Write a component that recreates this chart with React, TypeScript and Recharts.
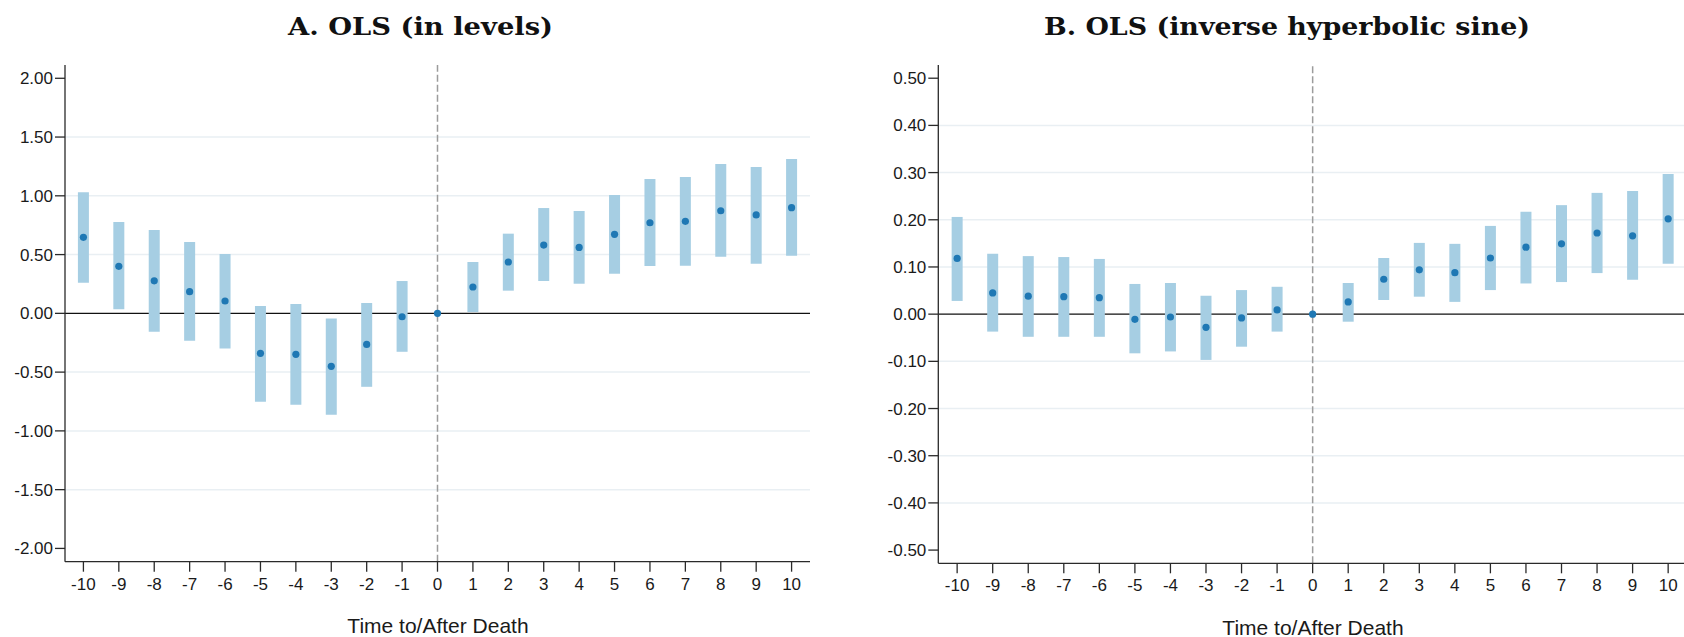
import React from "react";
import { ComposedChart, Scatter, ErrorBar, XAxis, YAxis, ReferenceLine } from "recharts";

// ---- data ----
const periods = [-10, -9, -8, -7, -6, -5, -4, -3, -2, -1, 0, 1, 2, 3, 4, 5, 6, 7, 8, 9, 10];

const levelsEst = [0.647, 0.4, 0.277, 0.184, 0.105, -0.34, -0.349, -0.451, -0.264, -0.029, 0, 0.224, 0.437, 0.581, 0.561, 0.672, 0.771, 0.783, 0.873, 0.837, 0.899];
const levelsLo = [0.26, 0.034, -0.157, -0.233, -0.3, -0.752, -0.778, -0.863, -0.625, -0.327, 0, 0.011, 0.193, 0.275, 0.252, 0.337, 0.403, 0.405, 0.482, 0.422, 0.49];
const levelsHi = [1.03, 0.777, 0.709, 0.607, 0.505, 0.062, 0.079, -0.043, 0.088, 0.275, 0, 0.437, 0.678, 0.896, 0.871, 1.007, 1.143, 1.16, 1.271, 1.245, 1.313];

const ihsEst = [0.118, 0.045, 0.038, 0.037, 0.035, -0.011, -0.006, -0.028, -0.008, 0.009, 0, 0.026, 0.074, 0.094, 0.088, 0.119, 0.142, 0.149, 0.172, 0.166, 0.202];
const ihsLo = [0.028, -0.037, -0.048, -0.048, -0.048, -0.083, -0.079, -0.097, -0.069, -0.037, 0, -0.016, 0.03, 0.037, 0.026, 0.051, 0.065, 0.068, 0.087, 0.073, 0.107];
const ihsHi = [0.206, 0.128, 0.123, 0.121, 0.117, 0.064, 0.066, 0.039, 0.051, 0.058, 0, 0.066, 0.119, 0.151, 0.149, 0.187, 0.217, 0.231, 0.257, 0.261, 0.297];

const levelsTicks = [-2, -1.5, -1, -0.5, 0, 0.5, 1, 1.5, 2];
const ihsTicks = [-0.5, -0.4, -0.3, -0.2, -0.1, 0, 0.1, 0.2, 0.3, 0.4, 0.5];

const titleA = "A. OLS (in levels)";
const titleB = "B. OLS (inverse hyperbolic sine)";
const xTitle = "Time to/After Death";

const buildRows = (est: number[], lo: number[], hi: number[]) =>
  periods.map((t, i) => ({ t, est: est[i], err: [est[i] - lo[i], hi[i] - est[i]] }));

const levelsRows = buildRows(levelsEst, levelsLo, levelsHi);
const ihsRows = buildRows(ihsEst, ihsLo, ihsHi);

const BAR = "#A6CEE3";
const DOT = "#1F78B4";
const AXIS = "#2a2a2a";
const GRID = "#E9EFF3";
const FONT = "'Liberation Sans', Arial, sans-serif";

const Dot = (p: any) => <circle cx={p.cx} cy={p.cy} r={3.6} fill={DOT} />;

type PanelProps = {
  rows: any[];
  ticks: number[];
  yMax: number;
  xMin: number;
  xMax: number;
  width: number;
  yAxisWidth: number;
  bottomMargin: number;
};

function Panel({ rows, ticks, yMax, xMin, xMax, width, yAxisWidth, bottomMargin }: PanelProps) {
  const maxTick = Math.max(...ticks);
  const grid = ticks.filter((v) => v !== 0 && Math.abs(v) < maxTick - 1e-9);
  return (
    <ComposedChart
      width={width}
      height={637}
      data={rows}
      margin={{ top: 65, right: 20, bottom: bottomMargin, left: 0 }}
    >
      <XAxis
        dataKey="t"
        type="number"
        domain={[xMin, xMax]}
        allowDataOverflow
        ticks={periods}
        interval={0}
        height={40}
        tickSize={10}
        tickMargin={6}
        axisLine={{ stroke: AXIS, strokeWidth: 1.3 }}
        tickLine={{ stroke: AXIS, strokeWidth: 1.3 }}
        tick={{ fill: "#1a1a1a", fontSize: 17, fontFamily: FONT }}
      />
      <YAxis
        type="number"
        domain={[-yMax, yMax]}
        allowDataOverflow
        ticks={ticks}
        interval={0}
        width={yAxisWidth}
        tickSize={10}
        tickMargin={2}
        tickFormatter={(v: number) => v.toFixed(2)}
        axisLine={{ stroke: AXIS, strokeWidth: 1.3 }}
        tickLine={{ stroke: AXIS, strokeWidth: 1.3 }}
        tick={{ fill: "#1a1a1a", fontSize: 17, fontFamily: FONT }}
      />
      {grid.map((g) => (
        <ReferenceLine key={g} y={g} stroke={GRID} strokeWidth={1.5} />
      ))}
      <ReferenceLine y={0} stroke="#111" strokeWidth={1.4} />
      <ReferenceLine x={0} stroke="#9c9c9c" strokeWidth={1.5} strokeDasharray="7 3" />
      <Scatter dataKey="est" shape={Dot} isAnimationActive={false}>
        <ErrorBar dataKey="err" direction="y" width={0} strokeWidth={11} stroke={BAR} isAnimationActive={false} />
      </Scatter>
    </ComposedChart>
  );
}

export default function App() {
  return (
    <div
      style={{
        position: "absolute",
        left: 0,
        top: 0,
        width: 1684,
        height: 637,
        overflow: "hidden",
        background: "#fff",
      }}
    >
      <div style={{ position: "absolute", left: 0, top: 0 }}>
        <Panel
          rows={levelsRows}
          ticks={levelsTicks}
          yMax={2.113}
          xMin={-10.52}
          xMax={10.52}
          width={830}
          yAxisWidth={65}
          bottomMargin={35.3}
        />
      </div>
      <div style={{ position: "absolute", left: 880, top: 0 }}>
        <Panel
          rows={ihsRows}
          ticks={ihsTicks}
          yMax={0.528}
          xMin={-10.53}
          xMax={10.53}
          width={827}
          yAxisWidth={58.3}
          bottomMargin={33.7}
        />
      </div>
      <svg
        width={1684}
        height={637}
        style={{ position: "absolute", left: 0, top: 0, pointerEvents: "none" }}
      >
        <text
          x={420.5}
          y={35}
          textAnchor="middle"
          fontFamily="'DejaVu Serif', serif"
          fontWeight="bold"
          fontSize={24}
          fill="#111"
          textLength={265}
          lengthAdjust="spacingAndGlyphs"
        >
          {titleA}
        </text>
        <text
          x={1287}
          y={35}
          textAnchor="middle"
          fontFamily="'DejaVu Serif', serif"
          fontWeight="bold"
          fontSize={24}
          fill="#111"
          textLength={486}
          lengthAdjust="spacingAndGlyphs"
        >
          {titleB}
        </text>
        <text x={438} y={632.5} textAnchor="middle" fontFamily={FONT} fontSize={21} fill="#1a1a1a">
          {xTitle}
        </text>
        <text x={1313} y={634.5} textAnchor="middle" fontFamily={FONT} fontSize={21} fill="#1a1a1a">
          {xTitle}
        </text>
      </svg>
    </div>
  );
}
